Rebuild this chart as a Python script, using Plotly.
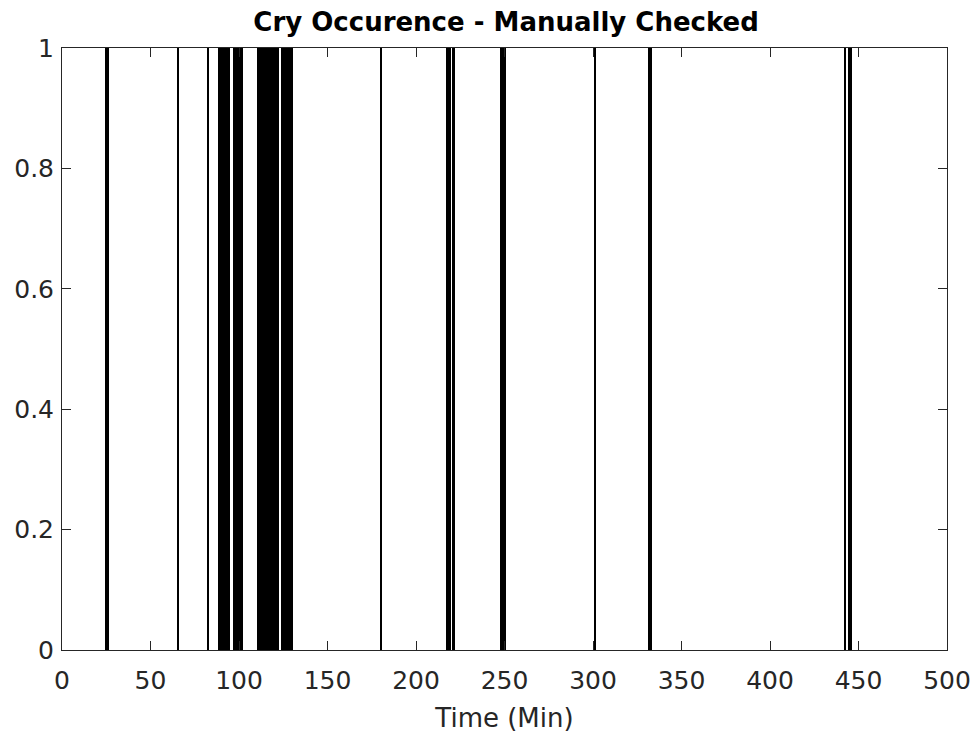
import plotly.graph_objects as go

# Cry episodes (start, end) in minutes
starts = [24.3, 65.0, 82.4, 87.9, 96.4, 110.0, 123.5, 179.9, 217.1, 220.8, 247.7, 250.2, 300.6, 331.2, 441.9, 444.0]
ends   = [26.6, 65.8, 83.2, 95.1, 102.2, 122.6, 130.5, 180.7, 219.5, 221.8, 250.0, 250.9, 301.4, 333.6, 442.7, 446.6]
occurrence = [1] * len(starts)

xticks = [0, 50, 100, 150, 200, 250, 300, 350, 400, 450, 500]
yticks = [0, 0.2, 0.4, 0.6, 0.8, 1]
ytick_labels = ["0", "0.2", "0.4", "0.6", "0.8", "1"]

centers = [(s + e) / 2 for s, e in zip(starts, ends)]
widths = [e - s for s, e in zip(starts, ends)]

fig = go.Figure()
fig.add_trace(go.Bar(
    x=centers, y=occurrence, width=widths, base=0,
    marker=dict(color="black", line=dict(width=0)),
    showlegend=False,
))

axis_color = "#262626"
font_family = "DejaVu Sans, Liberation Sans, Arial, sans-serif"
fig.update_layout(
    width=977, height=742,
    margin=dict(l=62, r=30, t=48, b=92, autoexpand=False),
    paper_bgcolor="white", plot_bgcolor="white",
    bargap=0,
    font=dict(family=font_family, color=axis_color, size=25),
    title=dict(text="<b>Cry Occurence - Manually Checked</b>", x=0.518, xanchor="center",
               y=1 - 22 / 742, yanchor="middle", font=dict(size=26, color="black")),
)
fig.update_xaxes(
    range=[0, 500], tickvals=xticks, ticktext=[str(v) for v in xticks],
    ticks="inside", ticklen=9, tickwidth=1, tickcolor=axis_color,
    showline=True, linecolor=axis_color, linewidth=1, mirror="ticks",
    showgrid=False, zeroline=False, ticklabelstandoff=8, automargin=False,
    title=dict(text="Time (Min)", font=dict(size=26, color=axis_color), standoff=14),
    tickfont=dict(size=25, color=axis_color),
)
fig.update_yaxes(
    range=[0, 1], tickvals=yticks, ticktext=ytick_labels,
    ticks="inside", ticklen=9, tickwidth=1, tickcolor=axis_color,
    showline=True, linecolor=axis_color, linewidth=1, mirror="ticks",
    showgrid=False, zeroline=False, ticklabelstandoff=2, automargin=False,
    tickfont=dict(size=25, color=axis_color),
)

fig.write_html("out.html")
